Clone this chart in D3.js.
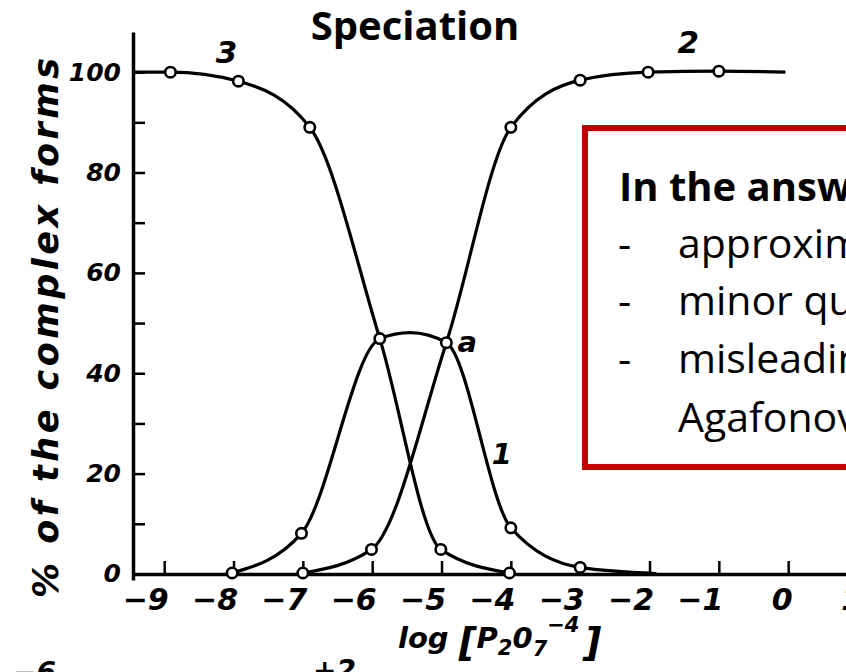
<!DOCTYPE html>
<html>
  <head>
    <meta charset="utf-8">
    <script src="https://d3js.org/d3.v7.min.js"></script>
    <title>Speciation</title>
    <style>
      body {
        margin: 0px;
        background: #fff;
      }
      .hand {
        font-family: "DejaVu Sans", sans-serif;
        font-weight: bold;
        font-style: oblique;
        fill: #000;
      }
      .slide {
        font-family: "Open Sans", sans-serif;
        fill: #000;
      }
    </style>
  </head>
  <body>
    <svg width="846" height="672"></svg>
    <script>
      // tick values
      const xTicks = [-9, -8, -7, -6, -5, -4, -3, -2, -1, 0, 1];
      const yTicks = [0, 10, 20, 30, 40, 50, 60, 70, 80, 90, 100];
      const yLabels = [0, 20, 40, 60, 80, 100];

      // curve 3 (falls from 100 %)
      const s3x = [-9.45, -8.91, -7.93, -6.9, -5.89, -5.01, -4.02];
      const s3y = [100, 100, 98.2, 89.0, 46.9, 4.9, 0.2];
      const s3m = [0, 1, 1, 1, 1, 1, 1];

      // curve 2 (rises to 100 %)
      const s2x = [-7.0, -6.01, -4.93, -4.0, -3.0, -2.02, -1.0, -0.04];
      const s2y = [0.2, 4.9, 46.1, 89.0, 98.4, 100, 100.2, 100];
      const s2m = [1, 1, 1, 1, 1, 1, 1, 0];

      // curve 1 (bell)
      const s1x = [-8.02, -7.02, -5.89, -5.45, -4.93, -4.0, -3.0, -1.9];
      const s1y = [0.2, 8.1, 46.9, 48.1, 46.1, 9.2, 1.3, 0.1];
      const s1m = [1, 1, 0, 0, 0, 1, 1, 0];

      // curve labels
      const labelText = ['3', '2', '1', 'a'];
      const labelX = [-8.1, -1.44, -4.13, -4.63];
      const labelY = [101.8, 103.8, 21.9, 44.2];

      const boxLines = ['approxim', 'minor qu', 'misleadin', 'Agafonov'];

      const svg = d3.select('svg');

      const x = d3.scaleLinear().domain([-9.45, 1]).range([133, 857.5]);
      const y = d3.scaleLinear().domain([-1.2, 108]).range([580, 32]);

      const toPts = (xs, ys, ms) => xs.map((v, i) => ({ x: v, y: ys[i], m: ms[i] }));
      const series = [toPts(s3x, s3y, s3m), toPts(s2x, s2y, s2m), toPts(s1x, s1y, s1m)];

      const line = d3.line()
        .x(d => x(d.x))
        .y(d => y(d.y))
        .curve(d3.curveMonotoneX);

      // title
      svg.append('text')
        .attr('class', 'slide')
        .attr('x', 415)
        .attr('y', 40)
        .attr('text-anchor', 'middle')
        .style('font-size', '40px')
        .style('font-weight', 'bold')
        .text('Speciation');

      // curves
      svg.selectAll('.curve')
        .data(series)
        .enter().append('path')
          .attr('class', 'curve')
          .attr('fill', 'none')
          .attr('stroke', '#000')
          .attr('stroke-width', 3.2)
          .attr('d', line);

      // axes
      const xAxis = d3.axisBottom(x)
        .tickValues(xTicks)
        .tickSize(-13)
        .tickSizeOuter(0)
        .tickPadding(15)
        .tickFormat(d => d < 0 ? '\u2212' + Math.abs(d) : d);

      const yAxis = d3.axisLeft(y)
        .tickValues(yTicks)
        .tickSize(-12)
        .tickSizeOuter(0)
        .tickPadding(12)
        .tickFormat(d => yLabels.includes(d) ? d : '');

      const xAxisG = svg.append('g')
        .attr('transform', `translate(0,${y(0)})`)
        .call(xAxis);
      const yAxisG = svg.append('g')
        .attr('transform', `translate(${x(-9.45)},0)`)
        .call(yAxis);

      [xAxisG, yAxisG].forEach(g => {
        g.select('.domain').attr('stroke', '#000').attr('stroke-width', 3.5);
        g.selectAll('.tick line').attr('stroke', '#000').attr('stroke-width', 2.5);
        g.selectAll('.tick text').attr('class', 'hand').attr('fill', '#000');
      });
      xAxisG.selectAll('.tick text')
        .attr('text-anchor', 'end')
        .attr('dx', 4)
        .style('font-size', '30px');
      yAxisG.selectAll('.tick text')
        .style('font-size', '25px');

      // markers
      const markers = series.flat().filter(d => d.m);
      svg.selectAll('.mark')
        .data(markers)
        .enter().append('circle')
          .attr('class', 'mark')
          .attr('cx', d => x(d.x))
          .attr('cy', d => y(d.y))
          .attr('r', 5.2)
          .attr('fill', '#fff')
          .attr('stroke', '#000')
          .attr('stroke-width', 2.6);

      // curve labels
      svg.selectAll('.clabel')
        .data(labelText)
        .enter().append('text')
          .attr('class', 'hand')
          .attr('x', (d, i) => x(labelX[i]))
          .attr('y', (d, i) => y(labelY[i]))
          .attr('text-anchor', 'middle')
          .style('font-size', (d, i) => i < 2 ? '31px' : '29px')
          .text(d => d);

      // axis titles
      svg.append('text')
        .attr('class', 'hand')
        .attr('transform', 'translate(58,328) rotate(-90)')
        .attr('text-anchor', 'middle')
        .attr('textLength', 540)
        .attr('lengthAdjust', 'spacing')
        .style('font-size', '35px')
        .text('% of the complex forms');

      const xl = svg.append('text')
        .attr('class', 'hand')
        .attr('x', 398)
        .attr('y', 648)
        .style('font-size', '29px');
      xl.append('tspan').text('log ');
      xl.append('tspan').style('font-size', '39px').attr('dy', 8).text('[');
      xl.append('tspan').attr('dy', -8).text('P');
      xl.append('tspan').style('font-size', '21px').attr('dy', 7).text('2');
      xl.append('tspan').attr('dy', -7).text('0');
      xl.append('tspan').style('font-size', '21px').attr('dy', 8).text('7');
      xl.append('tspan').style('font-size', '21px').attr('dy', -24).text('\u22124');
      xl.append('tspan').style('font-size', '39px').attr('dy', 24).attr('dx', 4).text(']');

      // cut-off formula fragments at the bottom
      svg.append('text').attr('class', 'hand')
        .attr('x', 13).attr('y', 682).style('font-size', '28px').text('\u22126');
      svg.append('text').attr('class', 'hand')
        .attr('x', 313).attr('y', 680).style('font-size', '28px').text('+2');

      // red comment box
      svg.append('rect')
        .attr('x', 585)
        .attr('y', 128)
        .attr('width', 400)
        .attr('height', 339)
        .attr('fill', '#fff')
        .attr('stroke', '#c00000')
        .attr('stroke-width', 6);

      svg.append('text')
        .attr('class', 'slide')
        .attr('x', 619)
        .attr('y', 201)
        .style('font-size', '40px')
        .style('font-weight', 'bold')
        .text('In the answ');

      const bl = svg.selectAll('.bline')
        .data(boxLines)
        .enter().append('g')
          .attr('class', 'bline')
          .attr('transform', (d, i) => `translate(0,${[258, 315, 373, 432][i]})`);
      bl.filter((d, i) => i < 3).append('text')
        .attr('class', 'slide')
        .attr('x', 618)
        .style('font-size', '41px')
        .text('-');
      bl.append('text')
        .attr('class', 'slide')
        .attr('x', 678)
        .style('font-size', '41px')
        .text(d => d);
    </script>
  </body>
</html>
